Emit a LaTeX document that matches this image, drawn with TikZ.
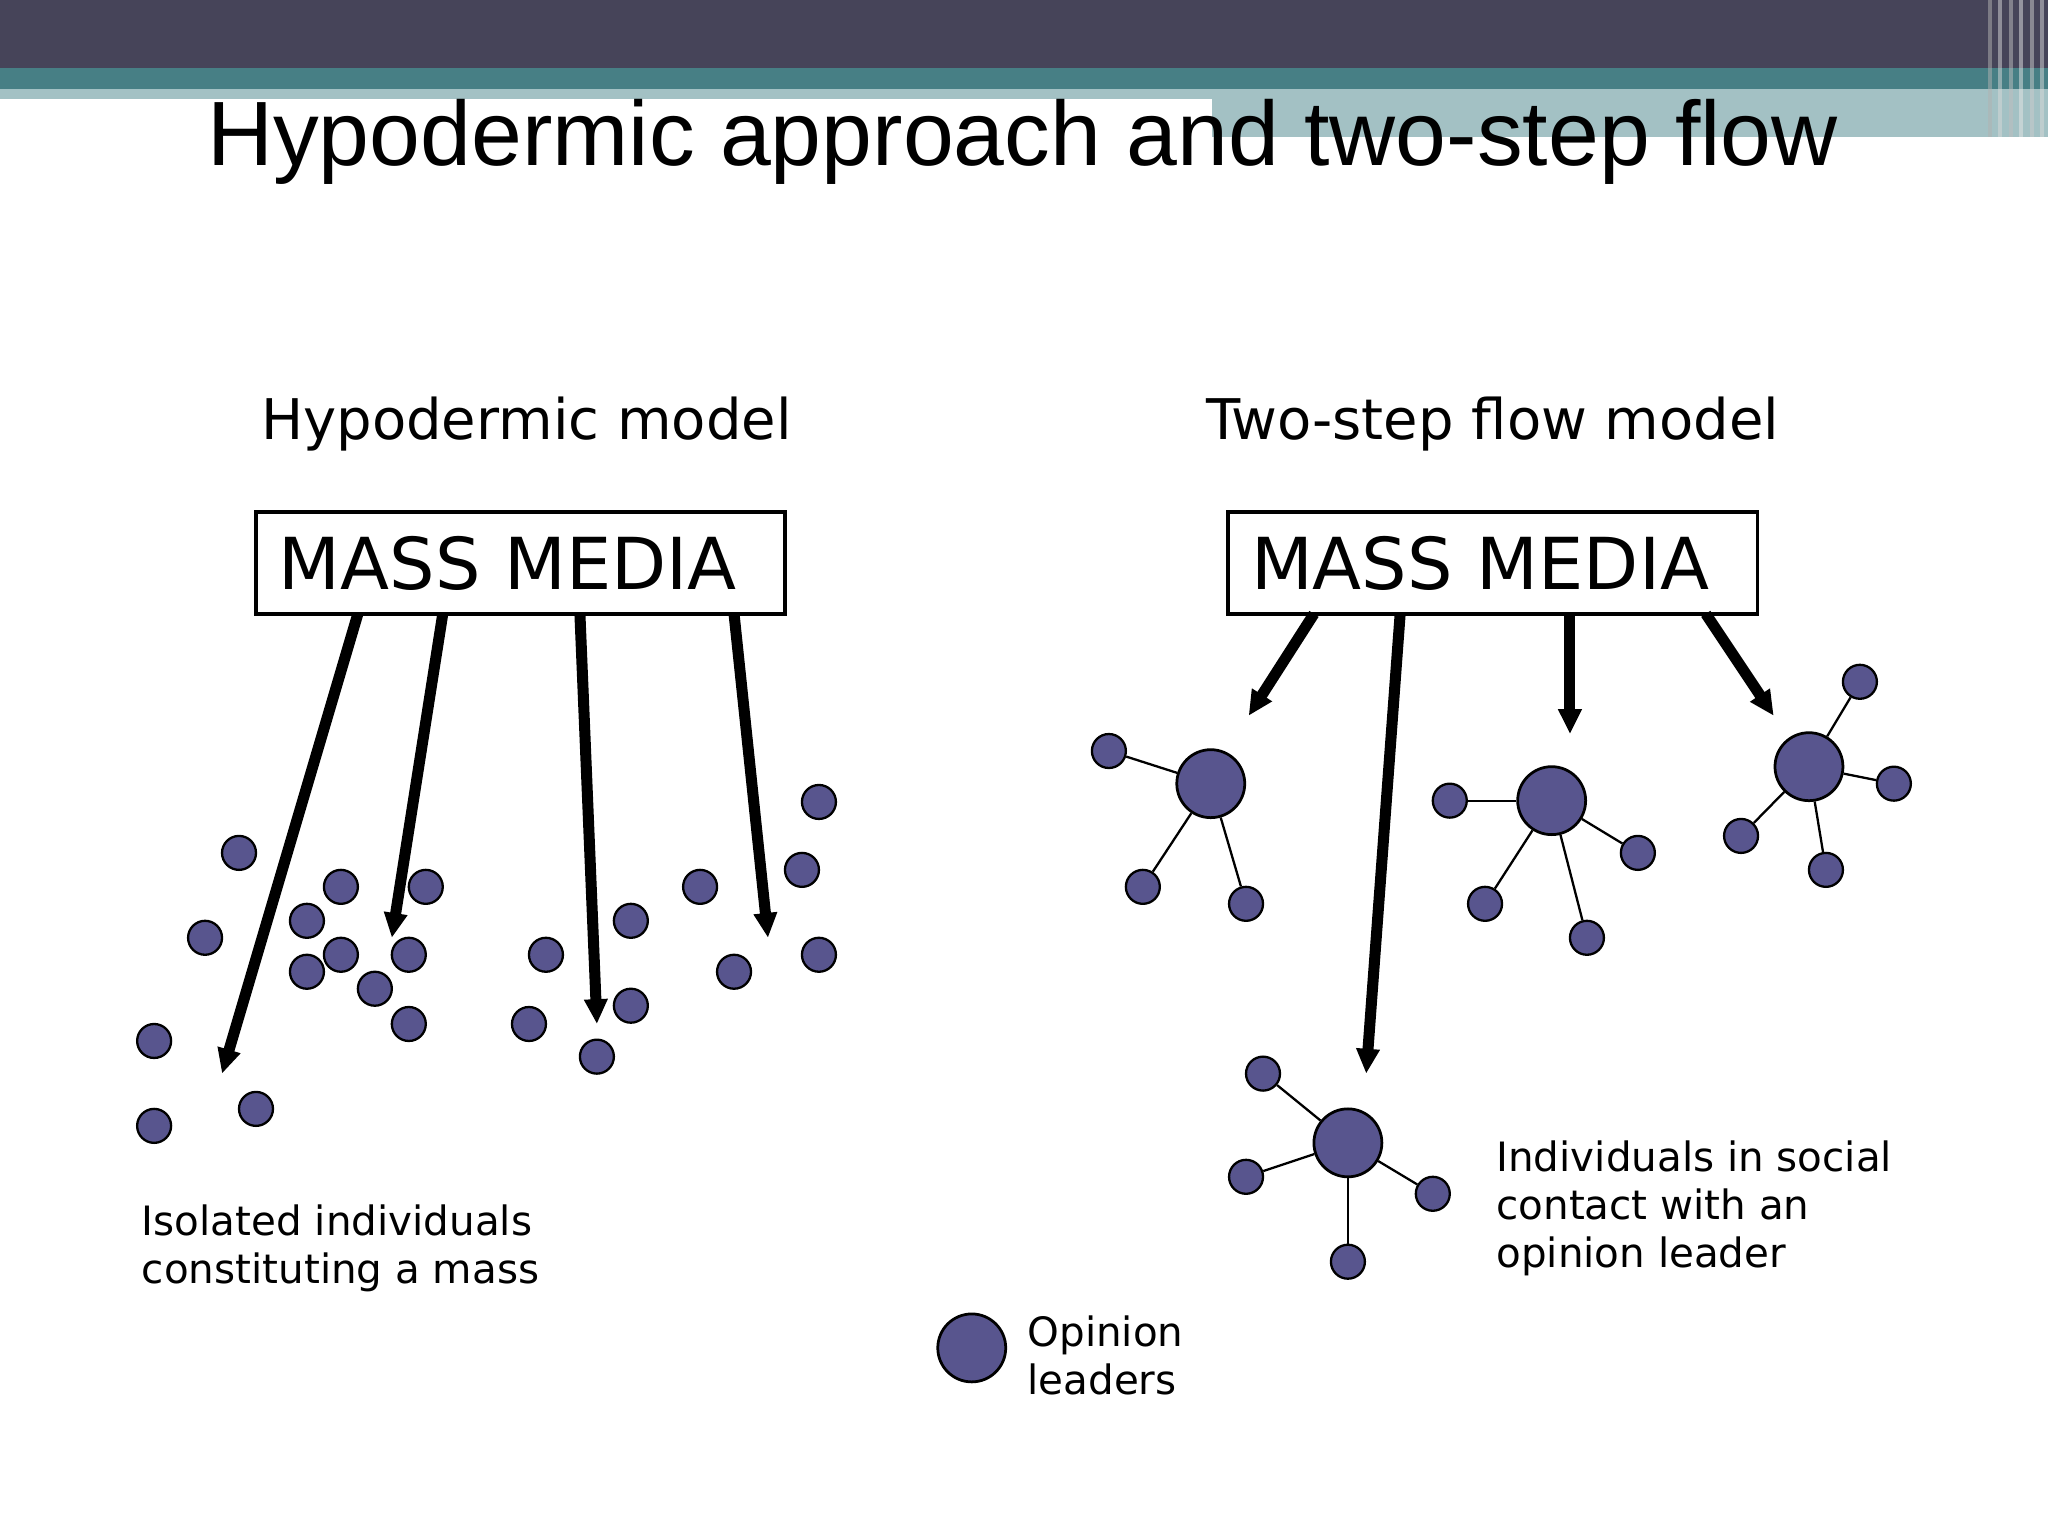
\documentclass[tikz,border=0pt]{standalone}
\usepackage{fontspec}
\setmainfont{DejaVu Sans}
\newfontfamily\titlefont{Liberation Sans}
\usetikzlibrary{arrows.meta}
\definecolor{dark}{HTML}{464459}
\definecolor{teal}{HTML}{477F85}
\definecolor{lteal}{HTML}{A3C1C4}
\definecolor{dot}{HTML}{58558E}
\begin{document}
\begin{tikzpicture}[x=0.01cm,y=-0.01cm,
  sd/.style={circle,draw=black,fill=dot,minimum size=0.26cm,inner sep=0,line width=0.5pt},
  bd/.style={circle,draw=black,fill=dot,minimum size=0.52cm,inner sep=0,line width=0.6pt},
  arr/.style={line width=2.4pt,-{Triangle[length=0.19cm,width=0.17cm]}},
  ln/.style={line width=0.5pt},
  box/.style={draw,line width=0.8pt,minimum width=4.05cm,minimum height=0.78cm,inner sep=0,font=\fontsize{15.6}{17}\selectfont},
  lbl/.style={font=\fontsize{8.8}{10.4}\selectfont,align=left,anchor=north west,inner sep=0}]
\useasboundingbox (0,0) rectangle (1568,1176);
\fill[dark] (0,0) rectangle (1568,52);
\fill[teal] (0,52) rectangle (1568,68);
\fill[lteal] (0,68) rectangle (928,76);
\fill[lteal] (928,68) rectangle (1568,105);
\foreach \x/\c in {1522/gray!60,1530/white!70!gray,1538/gray!50,1546/white!80!gray,1554/gray!40,1562/white!70!gray}
  \fill[\c,opacity=0.5] (\x,0) rectangle (\x+3,105);
\node[font=\titlefont\fontsize{19.9}{22}\selectfont] (title) at (783,109) {Hypodermic approach and two-step flow};
\node[font=\fontsize{12.2}{14}\selectfont] (h1) at (403,325) {Hypodermic model};
\node[font=\fontsize{12.2}{14}\selectfont] (h2) at (1143,325) {Two-step flow model};
\node[box,text width=3.7cm,align=left] (m1) at (398.5,431) {MASS MEDIA};
\node[box,text width=3.7cm,align=left] (m2) at (1143,431) {MASS MEDIA};
% left dots
\foreach \n/\x/\y in {a1/183/653,a2/157/718,a3/118/797,a4/118/862,a5/196/849,
 b1/261/679,b2/326/679,b3/235/705,b4/261/731,b5/313/731,b6/235/744,b7/287/757,b8/313/784,
 c1/483/705,c2/418/731,c3/483/770,c4/405/784,c5/457/809,
 d1/627/614,d2/536/679,d3/614/666,d4/562/744,d5/627/731}
  \node[sd] (\n) at (\x,\y) {};
\coordinate (t1) at (170,822); \coordinate (t2) at (300,718);
\coordinate (t3) at (457,784); \coordinate (t4) at (588,718);
\draw[arr] (274,470) -- (t1);
\draw[arr] (339,470) -- (t2);
\draw[arr] (444,470) -- (t3);
\draw[arr] (562,470) -- (t4);
\node[lbl] (l1) at (108,922) {Isolated individuals\\constituting a mass};
% right groups
\node[bd] (g1) at (927,600) {};
\foreach \n/\x/\y in {g1a/849/575,g1b/875/679,g1c/954/692} {\node[sd] (\n) at (\x,\y) {}; \draw[ln] (g1) -- (\n);}
\node[bd] (g2) at (1188,613) {};
\foreach \n/\x/\y in {g2a/1110/613,g2b/1254/653,g2c/1137/692,g2d/1215/718} {\node[sd] (\n) at (\x,\y) {}; \draw[ln] (g2) -- (\n);}
\node[bd] (g3) at (1385,587) {};
\foreach \n/\x/\y in {g3a/1424/522,g3b/1450/600,g3c/1333/640,g3d/1398/666} {\node[sd] (\n) at (\x,\y) {}; \draw[ln] (g3) -- (\n);}
\node[bd] (g4) at (1032,875) {};
\foreach \n/\x/\y in {g4a/967/822,g4b/954/901,g4c/1097/914,g4d/1032/966} {\node[sd] (\n) at (\x,\y) {}; \draw[ln] (g4) -- (\n);}
\coordinate (u1) at (956,548); \coordinate (u2) at (1202,562);
\coordinate (u3) at (1358,548); \coordinate (u4) at (1046,822);
\draw[arr] (1006,470) -- (u1);
\draw[arr] (1202,470) -- (u2);
\draw[arr] (1306,470) -- (u3);
\draw[arr] (1072,470) -- (u4);
\node[lbl] (l2) at (1145,873) {Individuals in social\\contact with an\\opinion leader};
\node[bd] (leg) at (744,1032) {};
\node[lbl] (l3) at (786,1007) {Opinion\\leaders};
\end{tikzpicture}
\end{document}
